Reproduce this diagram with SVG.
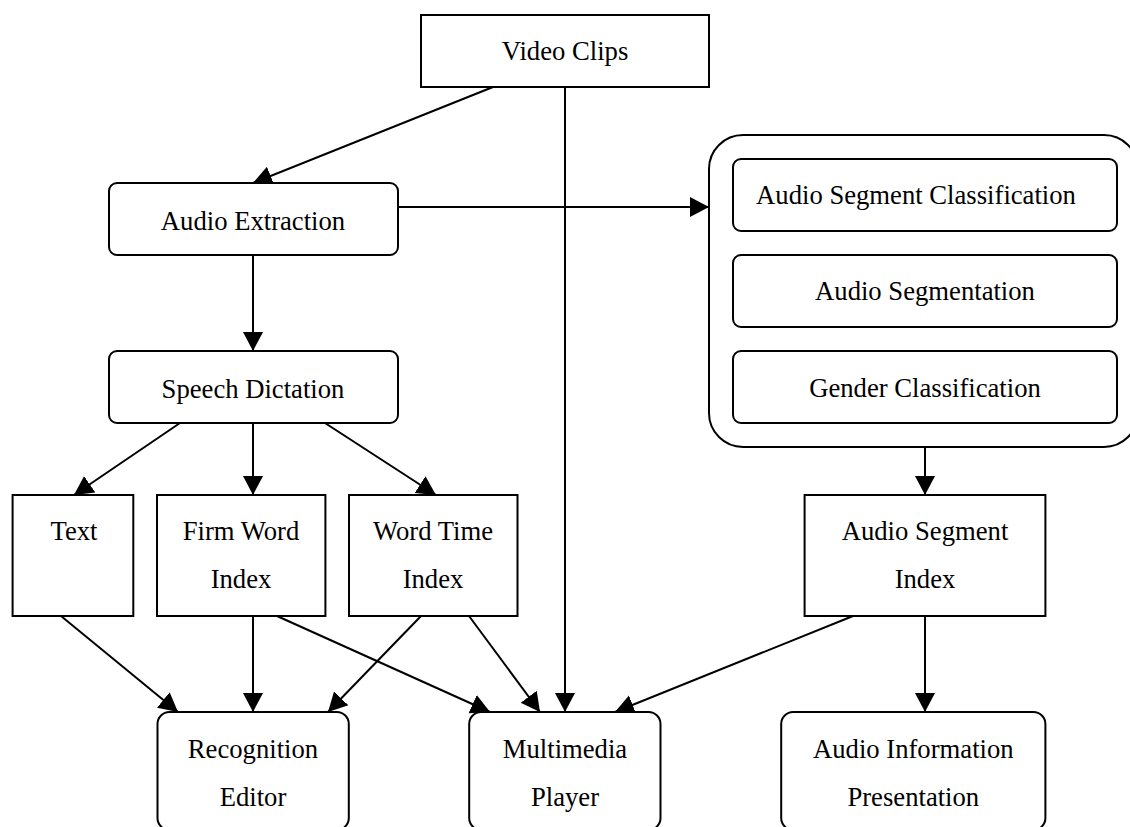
<svg xmlns="http://www.w3.org/2000/svg" width="1130" height="827" viewBox="0 0 1130 827">
<style>
.n{fill:#fff;stroke:#000;stroke-width:2}
.t{font-family:"Liberation Serif","Times New Roman",serif;font-size:26.67px;fill:#000;text-anchor:middle}
.c{stroke:#000;stroke-width:2;fill:none;marker-end:url(#ah)}
</style>
<defs>
<marker id="ah" markerUnits="userSpaceOnUse" markerWidth="20" markerHeight="22" refX="19" refY="10" orient="auto" viewBox="0 0 20 20">
<path d="M0,0 L19,10 L0,20 z" fill="#000"/>
</marker>
</defs>
<rect width="1130" height="827" fill="#fff"/>
<g id="connectors">
<line class="c" x1="493" y1="87" x2="253" y2="183"/>
<line class="c" x1="565" y1="87" x2="565" y2="712"/>
<line class="c" x1="398" y1="207" x2="709" y2="207"/>
<line class="c" x1="253" y1="255" x2="253" y2="351"/>
<line class="c" x1="180" y1="423" x2="74" y2="495"/>
<line class="c" x1="253" y1="423" x2="253" y2="495"/>
<line class="c" x1="325" y1="423" x2="436" y2="495"/>
<line class="c" x1="925" y1="447" x2="925" y2="495"/>
<line class="c" x1="61" y1="616" x2="178" y2="712"/>
<line class="c" x1="253" y1="616" x2="253" y2="712"/>
<line class="c" x1="421" y1="616" x2="328" y2="712"/>
<line class="c" x1="277" y1="616" x2="490" y2="712"/>
<line class="c" x1="469" y1="616" x2="540" y2="712"/>
<line class="c" x1="853" y1="616" x2="615" y2="712"/>
<line class="c" x1="925" y1="616" x2="925" y2="712"/>
</g>
<g id="video-clips"><rect class="n" x="421" y="15" width="288" height="72"/><text class="t" x="565" y="60">Video Clips</text></g>
<g id="audio-extraction"><rect class="n" x="109" y="183" width="289" height="72" rx="8"/><text class="t" x="253" y="230">Audio Extraction</text></g>
<g id="speech-dictation"><rect class="n" x="109" y="351" width="289" height="72" rx="8"/><text class="t" x="253" y="398">Speech Dictation</text></g>
<g id="audio-analysis"><rect class="n" x="709" y="135" width="429" height="312" rx="34"/></g>
<g id="audio-segment-classification"><rect class="n" x="733" y="159" width="384" height="72" rx="8"/><text class="t" x="916" y="204">Audio Segment Classification</text></g>
<g id="audio-segmentation"><rect class="n" x="733" y="255" width="384" height="72" rx="8"/><text class="t" x="925" y="300">Audio Segmentation</text></g>
<g id="gender-classification"><rect class="n" x="733" y="351" width="384" height="72" rx="8"/><text class="t" x="925" y="397">Gender Classification</text></g>
<g id="text"><rect class="n" x="12.6" y="495" width="120.7" height="121"/><text class="t" x="74" y="540">Text</text></g>
<g id="firm-word-index"><rect class="n" x="157" y="495" width="168.4" height="121"/><text class="t" x="241" y="540">Firm Word</text><text class="t" x="241" y="588">Index</text></g>
<g id="word-time-index"><rect class="n" x="349" y="495" width="168.5" height="121"/><text class="t" x="433" y="540">Word Time</text><text class="t" x="433" y="588">Index</text></g>
<g id="audio-segment-index"><rect class="n" x="804.6" y="495" width="240.8" height="121"/><text class="t" x="925" y="540">Audio Segment</text><text class="t" x="925" y="588">Index</text></g>
<g id="recognition-editor"><rect class="n" x="157.5" y="712" width="191.3" height="118" rx="12"/><text class="t" x="253" y="758">Recognition</text><text class="t" x="253" y="806">Editor</text></g>
<g id="multimedia-player"><rect class="n" x="469.2" y="712" width="191.3" height="118" rx="12"/><text class="t" x="565" y="758">Multimedia</text><text class="t" x="565" y="806">Player</text></g>
<g id="audio-information-presentation"><rect class="n" x="781.2" y="712" width="264.2" height="118" rx="12"/><text class="t" x="913.3" y="758">Audio Information</text><text class="t" x="913.3" y="806">Presentation</text></g>
</svg>
